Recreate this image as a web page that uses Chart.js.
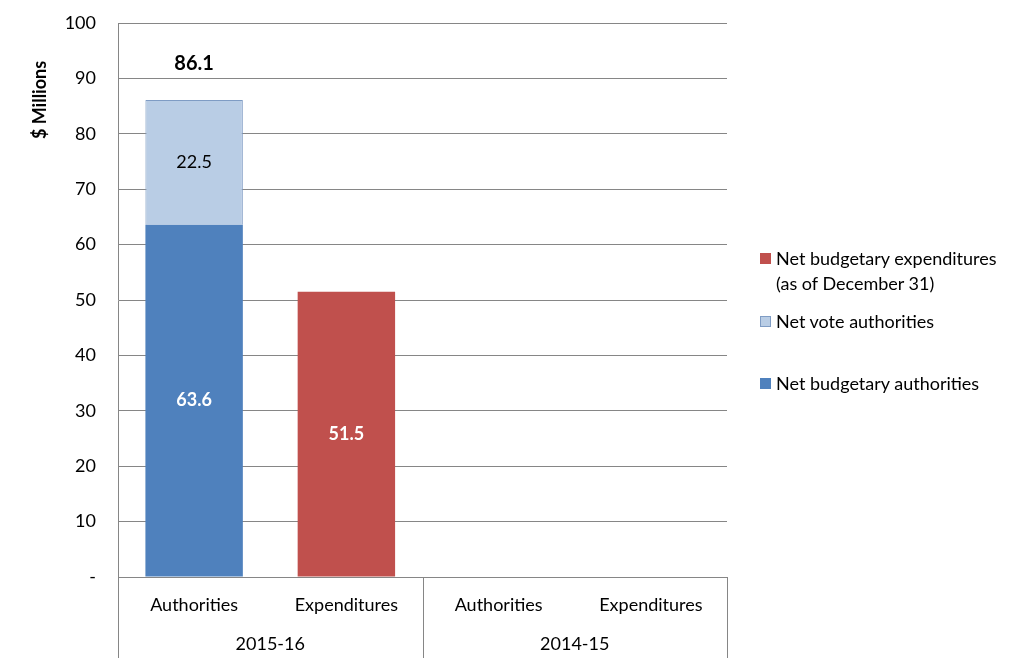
<!DOCTYPE html>
<html>
<head>
<meta charset="utf-8">
<script src="https://cdn.jsdelivr.net/npm/chart.js@4"></script>
<style>
  body { margin: 0; background: #fff; font-family: Lato, "Open Sans", sans-serif; }
  #wrap { position: relative; width: 1035px; height: 668px; }
  #legend { position: absolute; left: 760px; top: 246px; font-size: 18px; color: #000; }
  .item { position: absolute; left: 0; white-space: nowrap; line-height: 25px; }
  .sw { display: inline-block; width: 11px; height: 11px; margin-right: 5px; vertical-align: 1px; box-sizing: border-box; }
  .txt { display: inline-block; vertical-align: top; }
</style>
</head>
<body>
<div id="wrap">
  <canvas id="myChart" width="1035" height="668"></canvas>
  <div id="legend"></div>
</div>
<script>
const categories = ["Authorities", "Expenditures", "Authorities", "Expenditures"];
const groups = ["2015-16", "2014-15"];
const budgetaryAuthorities = [63.6, null, null, null];
const voteAuthorities = [22.5, null, null, null];
const budgetaryExpenditures = [null, 51.5, null, null];
const yTicks = [0, 10, 20, 30, 40, 50, 60, 70, 80, 90, 100];

const fontFamily = 'Lato, "Open Sans", sans-serif';
const ctx = document.getElementById('myChart').getContext('2d');

// legend (drawn as html, order as in the picture)
const legendItems = [
    { text: ['Net budgetary expenditures', '(as of December 31)'], color: '#C0504D', border: '#C0504D', top: 0 },
    { text: ['Net vote authorities'], color: '#B9CDE5', border: '#7F9CC4', top: 63 },
    { text: ['Net budgetary authorities'], color: '#4F81BD', border: '#4F81BD', top: 125 }
];
const legendEl = document.getElementById('legend');
legendItems.forEach(it => {
    const d = document.createElement('div');
    d.className = 'item';
    d.style.top = it.top + 'px';
    d.innerHTML = '<span class="sw" style="background:' + it.color + ';border:1px solid ' + it.border + '"></span>' +
        '<span class="txt">' + it.text.join('<br>') + '</span>';
    legendEl.appendChild(d);
});

const valueLabels = {
    id: 'valueLabels',
    afterDatasetsDraw(chart) {
        const c = chart.ctx;
        c.save();
        c.textAlign = 'center';
        c.textBaseline = 'middle';
        chart.data.datasets.forEach((ds, di) => {
            const meta = chart.getDatasetMeta(di);
            meta.data.forEach((bar, i) => {
                const v = ds.data[i];
                if (v == null) return;
                const mid = (bar.y + bar.base) / 2;
                c.font = (ds.labelBold ? 'bold ' : '') + '18px ' + fontFamily;
                c.fillStyle = ds.labelColor;
                c.fillText(v.toFixed(1), bar.x, mid);
            });
        });
        // total above stacked bar
        const y = chart.scales.y;
        const x = chart.scales.x;
        categories.forEach((cat, i) => {
            const a = budgetaryAuthorities[i], b = voteAuthorities[i];
            if (a == null || b == null) return;
            const total = a + b;
            c.font = 'bold 20px ' + fontFamily;
            c.fillStyle = '#000';
            c.fillText(total.toFixed(1), x.getPixelForValue(i), y.getPixelForValue(total) - 36);
        });
        c.restore();
    }
};

const groupAxis = {
    id: 'groupAxis',
    afterDraw(chart) {
        const c = chart.ctx;
        const x = chart.scales.x;
        const area = chart.chartArea;
        const half = (x.getPixelForValue(1) - x.getPixelForValue(0)) / 2;
        const bottom = area.bottom + 81;
        c.save();
        c.strokeStyle = '#868686';
        c.lineWidth = 1;
        const per = categories.length / groups.length;
        for (let g = 0; g <= groups.length; g++) {
            const idx = g * per;
            const px = Math.round(idx < categories.length ? x.getPixelForValue(idx) - half : x.getPixelForValue(idx - 1) + half) + 0.5;
            c.beginPath();
            c.moveTo(px, area.bottom);
            c.lineTo(px, bottom);
            c.stroke();
        }
        c.font = '18px ' + fontFamily;
        c.fillStyle = '#000';
        c.textAlign = 'center';
        c.textBaseline = 'middle';
        groups.forEach((g, gi) => {
            const l = x.getPixelForValue(gi * per) - half;
            const r = x.getPixelForValue(gi * per + per - 1) + half;
            c.fillText(g, (l + r) / 2, area.bottom + 67);
        });
        // y axis title, near the top like the original
        c.translate(40, 100);
        c.rotate(-Math.PI / 2);
        c.font = 'bold 18px ' + fontFamily;
        c.fillText('$ Millions', 0, 0);
        c.restore();
    }
};

new Chart(ctx, {
    type: 'bar',
    data: {
        labels: categories,
        datasets: [{
            label: 'Net budgetary authorities',
            data: budgetaryAuthorities,
            backgroundColor: '#4F81BD',
            borderColor: '#4F81BD',
            borderWidth: 0,
            labelColor: '#fff',
            labelBold: true
        }, {
            label: 'Net vote authorities',
            data: voteAuthorities,
            backgroundColor: '#B9CDE5',
            borderColor: '#7F9CC4',
            borderWidth: 1,
            labelColor: '#000',
            labelBold: false
        }, {
            label: 'Net budgetary expenditures (as of December 31)',
            data: budgetaryExpenditures,
            backgroundColor: '#C0504D',
            borderWidth: 0,
            labelColor: '#fff',
            labelBold: true
        }]
    },
    options: {
        responsive: false,
        animation: false,
        layout: { padding: { top: 23, right: 308, left: 0, bottom: 0 } },
        plugins: {
            legend: { display: false },
            tooltip: { enabled: false }
        },
        datasets: {
            bar: { barPercentage: 0.64, categoryPercentage: 1 }
        },
        scales: {
            x: {
                stacked: true,
                afterFit: s => { s.height = 91; s.paddingLeft = 0; s.paddingRight = 0; },
                grid: { display: false, drawTicks: false },
                border: { color: '#868686' },
                ticks: { color: '#000', font: { family: fontFamily, size: 18 }, padding: 17, maxRotation: 0 }
            },
            y: {
                stacked: true,
                min: 0,
                max: 100,
                afterFit: s => { s.width = 118; s.paddingTop = 0; s.paddingBottom = 0; },
                afterBuildTicks: s => { s.ticks = yTicks.map(v => ({ value: v })); },
                grid: { color: '#868686', drawTicks: false },
                border: { color: '#868686' },
                ticks: {
                    color: '#000',
                    padding: 22,
                    font: { family: fontFamily, size: 18 },
                    callback: v => v === 0 ? '-' : v
                }
            }
        }
    },
    plugins: [valueLabels, groupAxis]
});
</script>
</body>
</html>
